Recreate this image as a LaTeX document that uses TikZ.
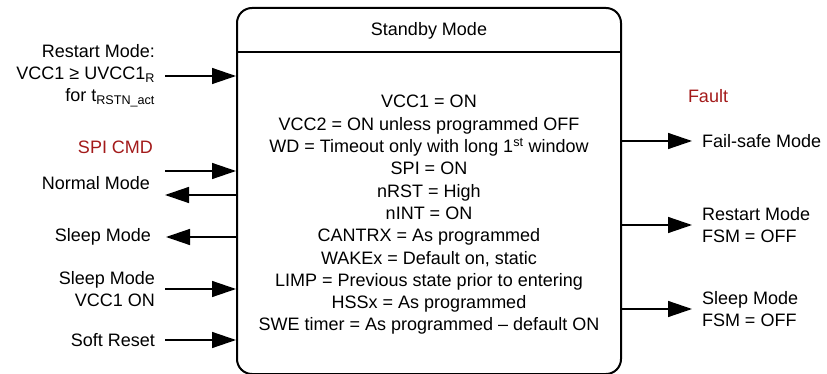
\documentclass[tikz,border=0pt]{standalone}
\usepackage{fontspec}
\setmainfont{Liberation Sans}
\usepackage{xcolor}
\usetikzlibrary{arrows.meta,positioning,calc}
\definecolor{FaultRed}{HTML}{A31A1A}
\tikzset{
  modebox/.style={draw,line width=2pt,rounded corners=15pt,minimum width=384pt,minimum height=366pt,inner sep=0pt},
  leftlbl/.style={anchor=east,align=right,inner sep=0pt,outer xsep=10pt},
  rightlbl/.style={anchor=west,align=left,inner sep=0pt,outer xsep=10pt},
  trans/.style={-{Triangle[length=24pt,width=16pt]},line width=1.4pt},
}

\begin{document}
\begin{tikzpicture}[x=1pt,y=-1pt,font=\fontsize{18}{22}\selectfont]
\clip (0,0) rectangle (827,374);
\node[modebox] (sb) at (429,191) {};
\node (title) at (429,31) {Standby Mode};
\coordinate (hl) at (0,52);
\draw[line width=1.6pt] (hl -| sb.west) -- (hl -| sb.east);
\node[align=center,font=\fontsize{18}{22.3}\selectfont] (body) at (429,215) {VCC1 = ON\\VCC2 = ON unless programmed OFF\\WD = Timeout only with long 1\textsuperscript{st} window\\SPI = ON\\nRST = High\\nINT = ON\\CANTRX = As programmed\\WAKEx = Default on, static\\LIMP = Previous state prior to entering\\HSSx = As programmed\\SWE timer = As programmed -- default ON};
% inputs and outputs, left side
\node[leftlbl] (rst) at (165,76) {Restart Mode:\\VCC1 ≥ UVCC1\textsubscript{R}\\for t\textsubscript{RSTN\_act}};
\node[leftlbl,text=FaultRed,outer xsep=0pt] (spi) at (153,147) {SPI CMD};
\node[leftlbl] (nm) at (160,183) {Normal Mode};
\coordinate (nmin) at (165,171); \coordinate (nmout) at (165,195);
\node[leftlbl] (slp) at (161,237) {Sleep Mode};
\node[leftlbl] (slpv) at (165,289) {Sleep Mode\\VCC1 ON};
\node[leftlbl] (srst) at (165,340) {Soft Reset};
\draw[trans] (rst.east) -- (rst.east -| sb.west);
\draw[trans] (nmin) -- (nmin -| sb.west); \draw[trans] (nmout -| sb.west) -- (nmout);
\draw[trans] (slp.east -| sb.west) -- ([xshift=5pt]slp.east);
\draw[trans] (slpv.east) -- (slpv.east -| sb.west); \draw[trans] (srst.east) -- (srst.east -| sb.west);
% right side
\node[text=FaultRed] (flt) at (708,96) {Fault};
\node[rightlbl] (fsm) at (692,141) {Fail-safe Mode};
\node[rightlbl] (rsm) at (692,225) {Restart Mode\\FSM = OFF};
\node[rightlbl] (slm) at (692,309) {Sleep Mode\\FSM = OFF};
\draw[trans] (fsm.west -| sb.east) -- (fsm.west); \draw[trans] (rsm.west -| sb.east) -- (rsm.west); \draw[trans] (slm.west -| sb.east) -- (slm.west);
\end{tikzpicture}
\end{document}
